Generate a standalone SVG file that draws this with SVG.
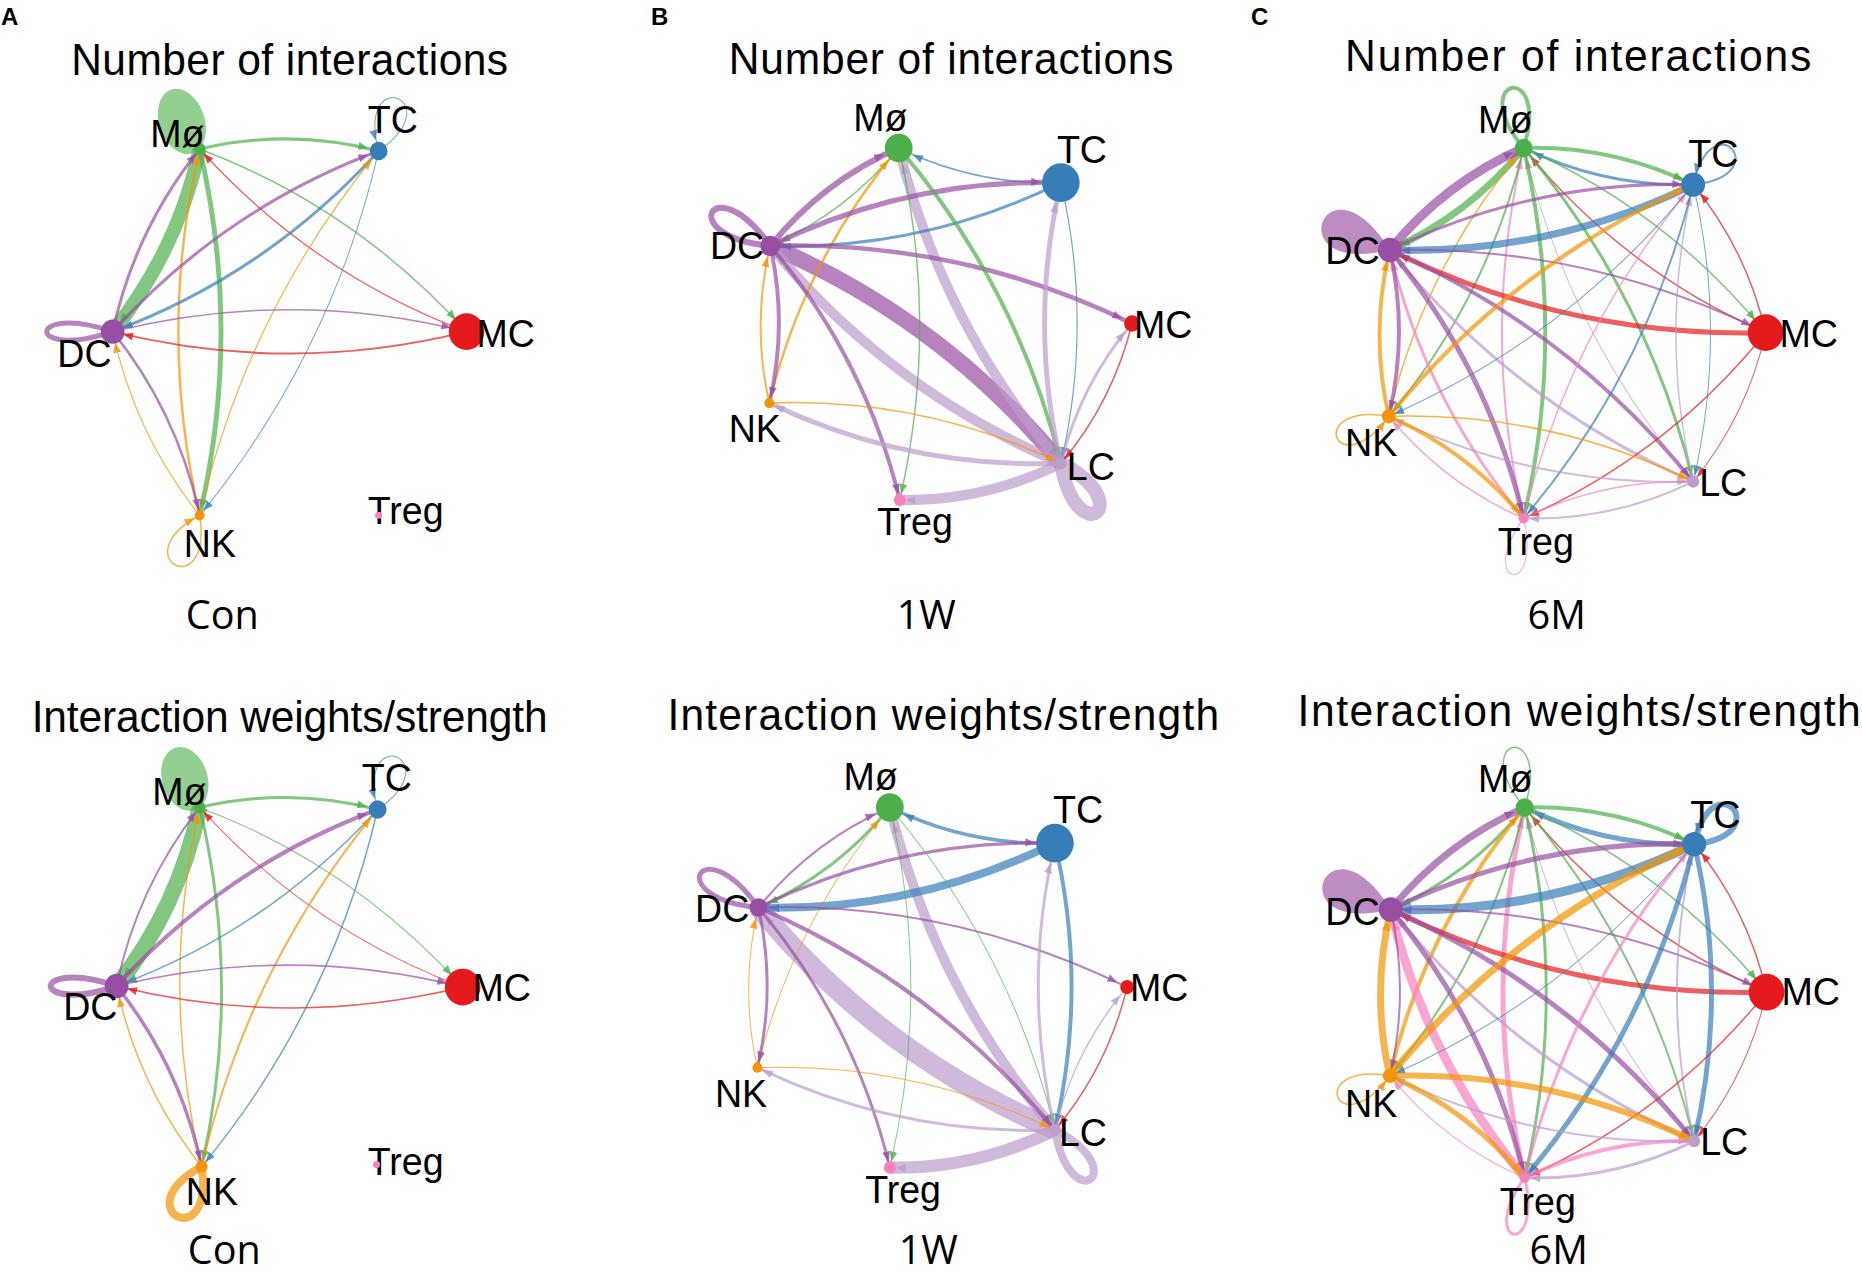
<svg xmlns="http://www.w3.org/2000/svg" width="1862" height="1274" viewBox="0 0 1862 1274">
<style>
.e{fill:none;stroke-opacity:.7}
.g{stroke:#4DAF4A}.b{stroke:#377EB8}.r{stroke:#E41A1C}.p{stroke:#984EA3}.o{stroke:#F29403}.k{stroke:#F781BF}.l{stroke:#BC9DCC}
.fg{fill:#4DAF4A;fill-opacity:.6;stroke:none}.fp{fill:#984EA3;fill-opacity:.65;stroke:none}
.nM{fill:#4DAF4A}.nT{fill:#377EB8}.nR{fill:#E41A1C}.nD{fill:#984EA3}.nN{fill:#F29403}.nG{fill:#F781BF}.nL{fill:#BC9DCC}
text{font-family:"Liberation Sans",Arial,sans-serif;fill:#000}
.lab{font-size:38px}
.ttl{font-size:43px}
.cond{font-family:"Open Sans","Noto Sans",sans-serif;font-size:40px}
.pl{font-size:24px;font-weight:bold}
.ah{fill-opacity:.8}
</style>
<defs>
<marker id="g-s" markerUnits="userSpaceOnUse" markerWidth="10" markerHeight="8" refX="16" refY="4" orient="auto"><path class="ah" d="M0,0L10,4L0,8z" fill="#4DAF4A"/></marker>
<marker id="g-m" markerUnits="userSpaceOnUse" markerWidth="10" markerHeight="8" refX="21" refY="4" orient="auto"><path class="ah" d="M0,0L10,4L0,8z" fill="#4DAF4A"/></marker>
<marker id="g-l" markerUnits="userSpaceOnUse" markerWidth="10" markerHeight="8" refX="26" refY="4" orient="auto"><path class="ah" d="M0,0L10,4L0,8z" fill="#4DAF4A"/></marker>
<marker id="b-s" markerUnits="userSpaceOnUse" markerWidth="10" markerHeight="8" refX="16" refY="4" orient="auto"><path class="ah" d="M0,0L10,4L0,8z" fill="#377EB8"/></marker>
<marker id="b-m" markerUnits="userSpaceOnUse" markerWidth="10" markerHeight="8" refX="21" refY="4" orient="auto"><path class="ah" d="M0,0L10,4L0,8z" fill="#377EB8"/></marker>
<marker id="b-l" markerUnits="userSpaceOnUse" markerWidth="10" markerHeight="8" refX="26" refY="4" orient="auto"><path class="ah" d="M0,0L10,4L0,8z" fill="#377EB8"/></marker>
<marker id="r-s" markerUnits="userSpaceOnUse" markerWidth="10" markerHeight="8" refX="16" refY="4" orient="auto"><path class="ah" d="M0,0L10,4L0,8z" fill="#E41A1C"/></marker>
<marker id="r-m" markerUnits="userSpaceOnUse" markerWidth="10" markerHeight="8" refX="21" refY="4" orient="auto"><path class="ah" d="M0,0L10,4L0,8z" fill="#E41A1C"/></marker>
<marker id="p-s" markerUnits="userSpaceOnUse" markerWidth="10" markerHeight="8" refX="16" refY="4" orient="auto"><path class="ah" d="M0,0L10,4L0,8z" fill="#984EA3"/></marker>
<marker id="p-m" markerUnits="userSpaceOnUse" markerWidth="10" markerHeight="8" refX="21" refY="4" orient="auto"><path class="ah" d="M0,0L10,4L0,8z" fill="#984EA3"/></marker>
<marker id="p-l" markerUnits="userSpaceOnUse" markerWidth="10" markerHeight="8" refX="26" refY="4" orient="auto"><path class="ah" d="M0,0L10,4L0,8z" fill="#984EA3"/></marker>
<marker id="p-x" markerUnits="userSpaceOnUse" markerWidth="10" markerHeight="8" refX="30" refY="4" orient="auto"><path class="ah" d="M0,0L10,4L0,8z" fill="#984EA3"/></marker>
<marker id="o-s" markerUnits="userSpaceOnUse" markerWidth="10" markerHeight="8" refX="16" refY="4" orient="auto"><path class="ah" d="M0,0L10,4L0,8z" fill="#F29403"/></marker>
<marker id="o-m" markerUnits="userSpaceOnUse" markerWidth="10" markerHeight="8" refX="21" refY="4" orient="auto"><path class="ah" d="M0,0L10,4L0,8z" fill="#F29403"/></marker>
<marker id="o-l" markerUnits="userSpaceOnUse" markerWidth="10" markerHeight="8" refX="26" refY="4" orient="auto"><path class="ah" d="M0,0L10,4L0,8z" fill="#F29403"/></marker>
<marker id="k-s" markerUnits="userSpaceOnUse" markerWidth="10" markerHeight="8" refX="16" refY="4" orient="auto"><path class="ah" d="M0,0L10,4L0,8z" fill="#F781BF"/></marker>
<marker id="k-m" markerUnits="userSpaceOnUse" markerWidth="10" markerHeight="8" refX="21" refY="4" orient="auto"><path class="ah" d="M0,0L10,4L0,8z" fill="#F781BF"/></marker>
<marker id="l-s" markerUnits="userSpaceOnUse" markerWidth="10" markerHeight="8" refX="16" refY="4" orient="auto"><path class="ah" d="M0,0L10,4L0,8z" fill="#BC9DCC"/></marker>
<marker id="l-m" markerUnits="userSpaceOnUse" markerWidth="10" markerHeight="8" refX="21" refY="4" orient="auto"><path class="ah" d="M0,0L10,4L0,8z" fill="#BC9DCC"/></marker>
<marker id="l-l" markerUnits="userSpaceOnUse" markerWidth="10" markerHeight="8" refX="26" refY="4" orient="auto"><path class="ah" d="M0,0L10,4L0,8z" fill="#BC9DCC"/></marker>
<marker id="l-x" markerUnits="userSpaceOnUse" markerWidth="10" markerHeight="8" refX="30" refY="4" orient="auto"><path class="ah" d="M0,0L10,4L0,8z" fill="#BC9DCC"/></marker>
</defs>
<rect width="1862" height="1274" fill="#fff"/>
<text class="pl" x="1" y="25">A</text>
<text class="pl" x="651" y="25">B</text>
<text class="pl" x="1251" y="25">C</text>

<!-- Panel A top -->
<g id="panelA1" transform="matrix(0.9885,0,0,1.0204,0,0)">
<text class="ttl" x="72" y="74" textLength="442">Number of interactions</text>
<g id="A1-connectors">
<ellipse class="fg" cx="184" cy="119" rx="23" ry="33" transform="rotate(-20 184 119)"/>
<path class="e p" stroke-width="5" d="M114,325C25,354 25,296 114,325"/>
<path class="e o" stroke-width="1.5" marker-end="url(#o-s)" d="M202,505C215.4,593.4 122.8,546.6 202,505"/>
<path class="e b" stroke-width="1" marker-end="url(#b-m)" d="M383,148C457.5,97.6 359.7,61.2 383,148"/>
<path class="e g" stroke-width="14" marker-end="url(#g-m)" d="M202,146Q179.5,246 114,325"/>
<path class="e g" stroke-width="3" marker-end="url(#g-m)" d="M202,146Q292.7,125.3 383,148"/>
<path class="e p" stroke-width="3" marker-end="url(#p-s)" d="M114,325Q136.5,225 202,146"/>
<path class="e o" stroke-width="2.5" marker-end="url(#o-s)" d="M202,505Q158.9,325.5 202,146"/>
<path class="e g" stroke-width="5" marker-end="url(#g-s)" d="M202,146Q245.1,325.5 202,505"/>
<path class="e g" stroke-width="1.5" marker-end="url(#g-l)" d="M202,146Q358.5,203.1 472,325"/>
<path class="e r" stroke-width="1.2" marker-end="url(#r-s)" d="M472,325Q315.5,267.9 202,146"/>
<path class="e p" stroke-width="3" marker-end="url(#p-m)" d="M114,325Q227.3,204.2 383,148"/>
<path class="e b" stroke-width="3" marker-end="url(#b-m)" d="M383,148Q269.7,268.8 114,325"/>
<path class="e o" stroke-width="1.2" marker-end="url(#o-m)" d="M202,505Q249.7,304.8 383,148"/>
<path class="e b" stroke-width="1" marker-end="url(#b-s)" d="M383,148Q335.3,348.2 202,505"/>
<path class="e p" stroke-width="1.5" marker-end="url(#p-l)" d="M114,325Q293,282 472,325"/>
<path class="e r" stroke-width="2" marker-end="url(#r-m)" d="M472,325Q293,368 114,325"/>
<path class="e p" stroke-width="2.5" marker-end="url(#p-s)" d="M114,325Q179.6,404.4 202,505"/>
<path class="e o" stroke-width="1.2" marker-end="url(#o-m)" d="M202,505Q136.4,425.6 114,325"/>
</g>
<g id="A1-Mo"><circle class="nM" cx="202" cy="146" r="6"/><text class="lab" x="152" y="144">Mø</text></g>
<g id="A1-TC"><circle class="nT" cx="383" cy="148" r="9"/><text class="lab" x="372" y="130">TC</text></g>
<g id="A1-MC"><circle class="nR" cx="472" cy="325" r="18"/><text class="lab" x="482" y="340">MC</text></g>
<g id="A1-DC"><circle class="nD" cx="114" cy="325" r="12"/><text class="lab" x="58" y="360">DC</text></g>
<g id="A1-NK"><circle class="nN" cx="202" cy="505" r="5"/><text class="lab" x="186" y="546">NK</text></g>
<g id="A1-Treg"><text class="lab" x="372" y="514">Treg</text><circle class="nG" cx="383" cy="505" r="3.5"/></g>
<text class="cond" x="188" y="616">Con</text>
</g>

<!-- Panel A bottom -->
<g id="panelA2" transform="matrix(0.9885,0,0,1.0204,0,-12.93)">
<text class="ttl" x="32" y="730" textLength="522">Interaction weights/strength</text>
<g id="A2-connectors">
<ellipse class="fg" cx="187" cy="776" rx="23" ry="32" transform="rotate(-18 187 776)"/>
<path class="e p" stroke-width="6" d="M118,979C29,1008 29,950 118,979"/>
<path class="e o" stroke-width="8" d="M204,1156C217.4,1244.4 124.8,1197.6 204,1156"/>
<path class="e b" stroke-width="1" marker-end="url(#b-m)" d="M382,806C456.5,755.6 358.7,719.2 382,806"/>
<path class="e g" stroke-width="16" marker-end="url(#g-m)" d="M202,804Q181,901.6 118,979"/>
<path class="e g" stroke-width="3" marker-end="url(#g-m)" d="M202,804Q292.2,783.4 382,806"/>
<path class="e p" stroke-width="2" marker-end="url(#p-s)" d="M118,979Q139,881.4 202,804"/>
<path class="e o" stroke-width="1.5" marker-end="url(#o-s)" d="M204,1156Q160.8,980.2 202,804"/>
<path class="e g" stroke-width="3" marker-end="url(#g-s)" d="M202,804Q245.2,979.8 204,1156"/>
<path class="e g" stroke-width="1" marker-end="url(#g-l)" d="M202,804Q356.1,860.1 468,980"/>
<path class="e r" stroke-width="1" marker-end="url(#r-s)" d="M468,980Q313.9,923.9 202,804"/>
<path class="e p" stroke-width="4" marker-end="url(#p-m)" d="M118,979Q229.2,860.8 382,806"/>
<path class="e b" stroke-width="1.5" marker-end="url(#b-m)" d="M382,806Q270.8,924.2 118,979"/>
<path class="e o" stroke-width="2" marker-end="url(#o-m)" d="M204,1156Q251,959.6 382,806"/>
<path class="e b" stroke-width="1.5" marker-end="url(#b-s)" d="M382,806Q335,1002.4 204,1156"/>
<path class="e p" stroke-width="1.5" marker-end="url(#p-l)" d="M118,979Q293.1,937.5 468,980"/>
<path class="e r" stroke-width="1.5" marker-end="url(#r-m)" d="M468,980Q292.9,1021.5 118,979"/>
<path class="e p" stroke-width="3.5" marker-end="url(#p-s)" d="M118,979Q182.2,1057.2 204,1156"/>
<path class="e o" stroke-width="1.5" marker-end="url(#o-m)" d="M204,1156Q139.8,1077.8 118,979"/>
</g>
<g id="A2-Mo"><circle class="nM" cx="202" cy="804" r="6"/><text class="lab" x="154" y="802">Mø</text></g>
<g id="A2-TC"><circle class="nT" cx="382" cy="806" r="9"/><text class="lab" x="366" y="788">TC</text></g>
<g id="A2-MC"><circle class="nR" cx="468" cy="980" r="18"/><text class="lab" x="478" y="994">MC</text></g>
<g id="A2-DC"><circle class="nD" cx="118" cy="979" r="12"/><text class="lab" x="64" y="1012">DC</text></g>
<g id="A2-NK"><circle class="nN" cx="204" cy="1156" r="6"/><text class="lab" x="188" y="1194">NK</text></g>
<g id="A2-Treg"><text class="lab" x="372" y="1164">Treg</text><circle class="nG" cx="381" cy="1154" r="3.5"/></g>
<text class="cond" x="190" y="1251">Con</text>
</g>

<!-- Panel B top -->
<g id="panelB1" transform="matrix(0.9885,0,0,1.0204,7.13,0)">
<text class="ttl" x="730" y="73" textLength="450">Number of interactions</text>
<g id="B1-connectors">
<path class="e p" stroke-width="6" d="M772,241C713.8,161.2 673.6,232.6 772,241"/>
<path class="e l" stroke-width="14" d="M1066,454C1082,542 1146,494 1066,454"/>
<path class="e p" stroke-width="16" marker-end="url(#p-s)" d="M772,241Q944.6,312.2 1066,454"/>
<path class="e l" stroke-width="10" marker-end="url(#l-m)" d="M1066,454Q893.4,382.8 772,241"/>
<path class="e l" stroke-width="10" marker-end="url(#l-l)" d="M1066,454Q946.9,319.2 902,145"/>
<path class="e l" stroke-width="10" marker-end="url(#l-s)" d="M1066,454Q988.8,491.6 903,490"/>
<path class="e p" stroke-width="6" marker-end="url(#p-l)" d="M772,241Q825.5,177.4 902,145"/>
<path class="e g" stroke-width="1.5" marker-end="url(#g-m)" d="M902,145Q848.5,208.6 772,241"/>
<path class="e o" stroke-width="2.5" marker-end="url(#o-l)" d="M771,395Q806.5,254.3 902,145"/>
<path class="e b" stroke-width="1.5" marker-end="url(#b-l)" d="M1066,179Q979.9,181.7 902,145"/>
<path class="e p" stroke-width="5" marker-end="url(#p-x)" d="M772,241Q911.6,174.7 1066,179"/>
<path class="e b" stroke-width="3" marker-end="url(#b-m)" d="M1066,179Q926.4,245.3 772,241"/>
<path class="e p" stroke-width="4.5" marker-end="url(#p-m)" d="M772,241Q964.1,235.1 1138,317"/>
<path class="e g" stroke-width="4" marker-end="url(#g-s)" d="M902,145Q1021.1,279.8 1066,454"/>
<path class="e p" stroke-width="4" marker-end="url(#p-s)" d="M772,241Q867.4,349.8 903,490"/>
<path class="e g" stroke-width="1.5" marker-end="url(#g-s)" d="M902,145Q943.9,317.4 903,490"/>
<path class="e p" stroke-width="4" marker-end="url(#p-s)" d="M772,241Q790,318.1 771,395"/>
<path class="e o" stroke-width="2" marker-end="url(#o-m)" d="M771,395Q753,318 772,241"/>
<path class="e o" stroke-width="1.5" marker-end="url(#o-s)" d="M771,395Q925.6,389.1 1066,454"/>
<path class="e l" stroke-width="5" marker-end="url(#l-s)" d="M1066,454Q911.4,459.9 771,395"/>
<path class="e l" stroke-width="5" marker-end="url(#l-x)" d="M1066,454Q1033,316.5 1066,179"/>
<path class="e b" stroke-width="1.2" marker-end="url(#b-s)" d="M1066,179Q1099,316.5 1066,454"/>
<path class="e l" stroke-width="3" marker-end="url(#l-m)" d="M1066,454Q1085.6,376.9 1138,317"/>
<path class="e r" stroke-width="1.5" marker-end="url(#r-s)" d="M1138,317Q1118.4,394.1 1066,454"/>
</g>
<g id="B1-Mo"><circle class="nM" cx="902" cy="145" r="14"/><text class="lab" x="856" y="128">Mø</text></g>
<g id="B1-TC"><circle class="nT" cx="1066" cy="179" r="19"/><text class="lab" x="1062" y="160">TC</text></g>
<g id="B1-MC"><circle class="nR" cx="1138" cy="317" r="8"/><text class="lab" x="1140" y="331">MC</text></g>
<g id="B1-LC"><circle class="nL" cx="1066" cy="454" r="6"/><text class="lab" x="1072" y="470">LC</text></g>
<g id="B1-Treg"><circle class="nG" cx="903" cy="490" r="6"/><text class="lab" x="880" y="524">Treg</text></g>
<g id="B1-NK"><circle class="nN" cx="771" cy="395" r="5"/><text class="lab" x="730" y="433">NK</text></g>
<g id="B1-DC"><circle class="nD" cx="772" cy="241" r="10"/><text class="lab" x="711" y="254">DC</text></g>
<text class="cond" x="900" y="616">1W</text>
</g>

<!-- Panel B bottom -->
<g id="panelB2" transform="matrix(0.9885,0,0,1.0204,7.13,-12.93)">
<text class="ttl" x="668" y="728" textLength="558">Interaction weights/strength</text>
<g id="B2-connectors">
<path class="e p" stroke-width="5" d="M760,902C701.8,822.2 661.6,893.6 760,902"/>
<path class="e l" stroke-width="8" d="M1060,1120C1076,1208 1140,1160 1060,1120"/>
<path class="e l" stroke-width="20" marker-end="url(#l-m)" d="M1060,1120Q883.8,1047 760,902"/>
<path class="e l" stroke-width="10" marker-end="url(#l-l)" d="M1060,1120Q938.6,982 893,804"/>
<path class="e l" stroke-width="12" marker-end="url(#l-s)" d="M1060,1120Q980.9,1158.5 893,1157"/>
<path class="e b" stroke-width="8" marker-end="url(#b-m)" d="M1060,839Q917.6,906.5 760,902"/>
<path class="e p" stroke-width="2" marker-end="url(#p-l)" d="M760,902Q814.7,837 893,804"/>
<path class="e g" stroke-width="3" marker-end="url(#g-m)" d="M893,804Q838.3,869 760,902"/>
<path class="e o" stroke-width="1" marker-end="url(#o-l)" d="M759,1059Q795.4,915.4 893,804"/>
<path class="e b" stroke-width="3.5" marker-end="url(#b-l)" d="M1060,839Q972.3,841.5 893,804"/>
<path class="e p" stroke-width="3" marker-end="url(#p-x)" d="M760,902Q902.4,834.5 1060,839"/>
<path class="e p" stroke-width="2" marker-end="url(#p-m)" d="M760,902Q955.9,896.2 1133,980"/>
<path class="e p" stroke-width="4" marker-end="url(#p-s)" d="M760,902Q936.2,975 1060,1120"/>
<path class="e g" stroke-width="1" marker-end="url(#g-s)" d="M893,804Q1014.4,942 1060,1120"/>
<path class="e p" stroke-width="3" marker-end="url(#p-s)" d="M760,902Q857.1,1013.5 893,1157"/>
<path class="e g" stroke-width="1" marker-end="url(#g-s)" d="M893,804Q935.4,980.5 893,1157"/>
<path class="e p" stroke-width="3" marker-end="url(#p-s)" d="M760,902Q778.3,980.6 759,1059"/>
<path class="e o" stroke-width="1" marker-end="url(#o-m)" d="M759,1059Q740.7,980.4 760,902"/>
<path class="e o" stroke-width="1" marker-end="url(#o-s)" d="M759,1059Q916.8,1053.4 1060,1120"/>
<path class="e l" stroke-width="3" marker-end="url(#l-s)" d="M1060,1120Q902.2,1125.6 759,1059"/>
<path class="e l" stroke-width="3" marker-end="url(#l-x)" d="M1060,1120Q1026.3,979.5 1060,839"/>
<path class="e b" stroke-width="4" marker-end="url(#b-s)" d="M1060,839Q1093.7,979.5 1060,1120"/>
<path class="e l" stroke-width="1.5" marker-end="url(#l-m)" d="M1060,1120Q1079.7,1041.2 1133,980"/>
<path class="e r" stroke-width="1.5" marker-end="url(#r-s)" d="M1133,980Q1113.3,1058.8 1060,1120"/>
</g>
<g id="B2-Mo"><circle class="nM" cx="893" cy="804" r="14"/><text class="lab" x="846" y="787">Mø</text></g>
<g id="B2-TC"><circle class="nT" cx="1060" cy="839" r="19"/><text class="lab" x="1058" y="819">TC</text></g>
<g id="B2-DC"><circle class="nD" cx="760" cy="902" r="9"/><text class="lab" x="696" y="916">DC</text></g>
<g id="B2-MC"><circle class="nR" cx="1133" cy="980" r="7"/><text class="lab" x="1136" y="994">MC</text></g>
<g id="B2-NK"><circle class="nN" cx="759" cy="1059" r="5"/><text class="lab" x="716" y="1098">NK</text></g>
<g id="B2-LC"><circle class="nL" cx="1060" cy="1120" r="6"/><text class="lab" x="1064" y="1136">LC</text></g>
<g id="B2-Treg"><circle class="nG" cx="893" cy="1157" r="6"/><text class="lab" x="868" y="1192">Treg</text></g>
<text class="cond" x="902" y="1251">1W</text>
</g>

<!-- Panel C top -->
<g id="panelC1" transform="matrix(0.9917,0,0,1.0204,10.3,0)">
<text class="ttl" x="1346" y="70" textLength="470">Number of interactions</text>
<g id="C1-connectors">
<path class="e g" stroke-width="4" d="M1526,145C1554.1,57.6 1465.9,75.6 1526,145"/>
<path class="e b" stroke-width="2" marker-end="url(#b-m)" d="M1697,181C1782.5,172.3 1716.5,97.3 1697,181"/>
<path class="fp" d="M1391,245C1327,143.9 1274.6,272.3 1391,245"/>
<path class="e o" stroke-width="1.5" marker-end="url(#o-s)" d="M1390,408C1303.5,393.9 1336.9,477.7 1390,408"/>
<path class="e k" stroke-width="1" d="M1526,508C1476.7,574.5 1545.3,588.5 1526,508"/>
<path class="e g" stroke-width="4" marker-end="url(#g-m)" d="M1526,145Q1615.8,142.5 1697,181"/>
<path class="e b" stroke-width="3" marker-end="url(#b-m)" d="M1697,181Q1607.2,183.5 1526,145"/>
<path class="e g" stroke-width="7" marker-end="url(#g-m)" d="M1526,145Q1470.5,211.2 1391,245"/>
<path class="e p" stroke-width="9" marker-end="url(#p-m)" d="M1391,245Q1446.5,178.8 1526,145"/>
<path class="e g" stroke-width="1.5" marker-end="url(#g-l)" d="M1526,145Q1669.7,206.2 1770,326"/>
<path class="e r" stroke-width="1.5" marker-end="url(#r-m)" d="M1770,326Q1626.3,264.8 1526,145"/>
<path class="e g" stroke-width="3" marker-end="url(#g-s)" d="M1526,145Q1650.7,288 1697,472"/>
<path class="e l" stroke-width="1" marker-end="url(#l-m)" d="M1697,472Q1572.3,329 1526,145"/>
<path class="e g" stroke-width="4" marker-end="url(#g-s)" d="M1526,145Q1569.6,326.5 1526,508"/>
<path class="e k" stroke-width="2" marker-end="url(#k-m)" d="M1526,508Q1482.4,326.5 1526,145"/>
<path class="e g" stroke-width="2" marker-end="url(#g-s)" d="M1526,145Q1489.6,292.8 1390,408"/>
<path class="e o" stroke-width="1.5" marker-end="url(#o-m)" d="M1390,408Q1426.4,260.2 1526,145"/>
<path class="e p" stroke-width="3" marker-end="url(#p-m)" d="M1391,245Q1536.3,176.3 1697,181"/>
<path class="e b" stroke-width="7" marker-end="url(#b-m)" d="M1697,181Q1551.7,249.7 1391,245"/>
<path class="e p" stroke-width="2" marker-end="url(#p-l)" d="M1391,245Q1590.2,240 1770,326"/>
<path class="e r" stroke-width="5" marker-end="url(#r-m)" d="M1770,326Q1570.8,331 1391,245"/>
<path class="e p" stroke-width="4" marker-end="url(#p-s)" d="M1391,245Q1571.2,321.8 1697,472"/>
<path class="e l" stroke-width="3" marker-end="url(#l-m)" d="M1697,472Q1516.8,395.2 1391,245"/>
<path class="e p" stroke-width="5" marker-end="url(#p-s)" d="M1391,245Q1490.1,360.3 1526,508"/>
<path class="e k" stroke-width="3" marker-end="url(#k-m)" d="M1526,508Q1426.9,392.7 1391,245"/>
<path class="e p" stroke-width="4" marker-end="url(#p-s)" d="M1391,245Q1410.1,326.6 1390,408"/>
<path class="e o" stroke-width="4" marker-end="url(#o-m)" d="M1390,408Q1370.9,326.4 1391,245"/>
<path class="e r" stroke-width="1.5" marker-end="url(#r-m)" d="M1770,326Q1750.9,244.7 1697,181"/>
<path class="e b" stroke-width="1" marker-end="url(#b-s)" d="M1697,181Q1731.9,326.5 1697,472"/>
<path class="e l" stroke-width="1.5" marker-end="url(#l-m)" d="M1697,472Q1662.1,326.5 1697,181"/>
<path class="e b" stroke-width="2" marker-end="url(#b-s)" d="M1697,181Q1650.7,365 1526,508"/>
<path class="e k" stroke-width="1.5" marker-end="url(#k-m)" d="M1526,508Q1572.3,324 1697,181"/>
<path class="e b" stroke-width="1" marker-end="url(#b-s)" d="M1697,181Q1570.7,331.3 1390,408"/>
<path class="e o" stroke-width="4" marker-end="url(#o-m)" d="M1390,408Q1516.3,257.7 1697,181"/>
<path class="e r" stroke-width="1" marker-end="url(#r-s)" d="M1770,326Q1751,407.8 1697,472"/>
<path class="e r" stroke-width="1.5" marker-end="url(#r-s)" d="M1770,326Q1669.8,446.3 1526,508"/>
<path class="e l" stroke-width="2" marker-end="url(#l-s)" d="M1697,472Q1615.8,510.5 1526,508"/>
<path class="e k" stroke-width="1.5" marker-end="url(#k-s)" d="M1526,508Q1607.2,469.5 1697,472"/>
<path class="e l" stroke-width="2" marker-end="url(#l-s)" d="M1697,472Q1535.8,476.8 1390,408"/>
<path class="e o" stroke-width="1.5" marker-end="url(#o-s)" d="M1390,408Q1551.2,403.2 1697,472"/>
<path class="e k" stroke-width="1.5" marker-end="url(#k-s)" d="M1526,508Q1446,474.3 1390,408"/>
<path class="e o" stroke-width="4" marker-end="url(#o-s)" d="M1390,408Q1470,441.7 1526,508"/>
</g>
<g id="C1-Mo"><circle class="nM" cx="1526" cy="145" r="9"/><text class="lab" x="1480" y="130">Mø</text></g>
<g id="C1-TC"><circle class="nT" cx="1697" cy="181" r="12"/><text class="lab" x="1692" y="164">TC</text></g>
<g id="C1-MC"><circle class="nR" cx="1770" cy="326" r="18"/><text class="lab" x="1784" y="340">MC</text></g>
<g id="C1-LC"><circle class="nL" cx="1697" cy="472" r="6"/><text class="lab" x="1703" y="486">LC</text></g>
<g id="C1-Treg"><circle class="nG" cx="1526" cy="508" r="5"/><text class="lab" x="1500" y="544">Treg</text></g>
<g id="C1-NK"><circle class="nN" cx="1390" cy="408" r="7"/><text class="lab" x="1346" y="447">NK</text></g>
<g id="C1-DC"><circle class="nD" cx="1391" cy="245" r="12"/><text class="lab" x="1326" y="259">DC</text></g>
<text class="cond" x="1530" y="616">6M</text>
</g>

<!-- Panel C bottom -->
<g id="panelC2" transform="matrix(0.9917,0,0,1.0204,10.3,-12.93)">
<text class="ttl" x="1298" y="724" textLength="568">Interaction weights/strength</text>
<g id="C2-connectors" transform="translate(1,659)">
<path class="e g" stroke-width="1.5" d="M1526,145C1554.1,57.6 1465.9,75.6 1526,145"/>
<path class="e b" stroke-width="6" marker-end="url(#b-m)" d="M1697,181C1782.5,172.3 1716.5,97.3 1697,181"/>
<path class="fp" d="M1391,245C1327,143.9 1274.6,272.3 1391,245"/>
<path class="e o" stroke-width="1.5" marker-end="url(#o-s)" d="M1390,408C1303.5,393.9 1336.9,477.7 1390,408"/>
<path class="e k" stroke-width="3" d="M1526,508C1476.7,574.5 1545.3,588.5 1526,508"/>
<path class="e g" stroke-width="4" marker-end="url(#g-m)" d="M1526,145Q1615.8,142.5 1697,181"/>
<path class="e b" stroke-width="5" marker-end="url(#b-m)" d="M1697,181Q1607.2,183.5 1526,145"/>
<path class="e g" stroke-width="3" marker-end="url(#g-m)" d="M1526,145Q1470.5,211.2 1391,245"/>
<path class="e p" stroke-width="7" marker-end="url(#p-m)" d="M1391,245Q1446.5,178.8 1526,145"/>
<path class="e g" stroke-width="1.5" marker-end="url(#g-l)" d="M1526,145Q1669.7,206.2 1770,326"/>
<path class="e r" stroke-width="1.5" marker-end="url(#r-m)" d="M1770,326Q1626.3,264.8 1526,145"/>
<path class="e g" stroke-width="2" marker-end="url(#g-s)" d="M1526,145Q1650.7,288 1697,472"/>
<path class="e l" stroke-width="1" marker-end="url(#l-m)" d="M1697,472Q1572.3,329 1526,145"/>
<path class="e g" stroke-width="3" marker-end="url(#g-s)" d="M1526,145Q1569.6,326.5 1526,508"/>
<path class="e k" stroke-width="5" marker-end="url(#k-m)" d="M1526,508Q1482.4,326.5 1526,145"/>
<path class="e g" stroke-width="2" marker-end="url(#g-s)" d="M1526,145Q1489.6,292.8 1390,408"/>
<path class="e o" stroke-width="4" marker-end="url(#o-m)" d="M1390,408Q1426.4,260.2 1526,145"/>
<path class="e p" stroke-width="5" marker-end="url(#p-m)" d="M1391,245Q1536.3,176.3 1697,181"/>
<path class="e b" stroke-width="9" marker-end="url(#b-m)" d="M1697,181Q1551.7,249.7 1391,245"/>
<path class="e p" stroke-width="2" marker-end="url(#p-l)" d="M1391,245Q1590.2,240 1770,326"/>
<path class="e r" stroke-width="5" marker-end="url(#r-m)" d="M1770,326Q1570.8,331 1391,245"/>
<path class="e p" stroke-width="5" marker-end="url(#p-s)" d="M1391,245Q1571.2,321.8 1697,472"/>
<path class="e l" stroke-width="3" marker-end="url(#l-m)" d="M1697,472Q1516.8,395.2 1391,245"/>
<path class="e p" stroke-width="5" marker-end="url(#p-s)" d="M1391,245Q1490.1,360.3 1526,508"/>
<path class="e k" stroke-width="9" marker-end="url(#k-m)" d="M1526,508Q1426.9,392.7 1391,245"/>
<path class="e p" stroke-width="2" marker-end="url(#p-s)" d="M1391,245Q1410.1,326.6 1390,408"/>
<path class="e o" stroke-width="7" marker-end="url(#o-m)" d="M1390,408Q1370.9,326.4 1391,245"/>
<path class="e r" stroke-width="1.5" marker-end="url(#r-m)" d="M1770,326Q1750.9,244.7 1697,181"/>
<path class="e b" stroke-width="5" marker-end="url(#b-s)" d="M1697,181Q1731.9,326.5 1697,472"/>
<path class="e l" stroke-width="2" marker-end="url(#l-m)" d="M1697,472Q1662.1,326.5 1697,181"/>
<path class="e b" stroke-width="5" marker-end="url(#b-s)" d="M1697,181Q1650.7,365 1526,508"/>
<path class="e k" stroke-width="3" marker-end="url(#k-m)" d="M1526,508Q1572.3,324 1697,181"/>
<path class="e b" stroke-width="1" marker-end="url(#b-s)" d="M1697,181Q1570.7,331.3 1390,408"/>
<path class="e o" stroke-width="7" marker-end="url(#o-m)" d="M1390,408Q1516.3,257.7 1697,181"/>
<path class="e r" stroke-width="1" marker-end="url(#r-s)" d="M1770,326Q1751,407.8 1697,472"/>
<path class="e r" stroke-width="1.5" marker-end="url(#r-s)" d="M1770,326Q1669.8,446.3 1526,508"/>
<path class="e l" stroke-width="3" marker-end="url(#l-s)" d="M1697,472Q1615.8,510.5 1526,508"/>
<path class="e k" stroke-width="4" marker-end="url(#k-s)" d="M1526,508Q1607.2,469.5 1697,472"/>
<path class="e l" stroke-width="2" marker-end="url(#l-s)" d="M1697,472Q1535.8,476.8 1390,408"/>
<path class="e o" stroke-width="6" marker-end="url(#o-s)" d="M1390,408Q1551.2,403.2 1697,472"/>
<path class="e k" stroke-width="1" marker-end="url(#k-s)" d="M1526,508Q1446,474.3 1390,408"/>
<path class="e o" stroke-width="5" marker-end="url(#o-s)" d="M1390,408Q1470,441.7 1526,508"/>
</g>
<g id="C2-Mo"><circle class="nM" cx="1527" cy="804" r="9"/><text class="lab" x="1480" y="789">Mø</text></g>
<g id="C2-TC"><circle class="nT" cx="1698" cy="840" r="12"/><text class="lab" x="1694" y="824">TC</text></g>
<g id="C2-MC"><circle class="nR" cx="1771" cy="985" r="18"/><text class="lab" x="1786" y="998">MC</text></g>
<g id="C2-LC"><circle class="nL" cx="1698" cy="1131" r="6"/><text class="lab" x="1704" y="1145">LC</text></g>
<g id="C2-Treg"><circle class="nG" cx="1527" cy="1167" r="5"/><text class="lab" x="1502" y="1203">Treg</text></g>
<g id="C2-NK"><circle class="nN" cx="1391" cy="1067" r="7"/><text class="lab" x="1346" y="1107">NK</text></g>
<g id="C2-DC"><circle class="nD" cx="1392" cy="904" r="12"/><text class="lab" x="1326" y="919">DC</text></g>
<text class="cond" x="1532" y="1251">6M</text>
</g>
</svg>
